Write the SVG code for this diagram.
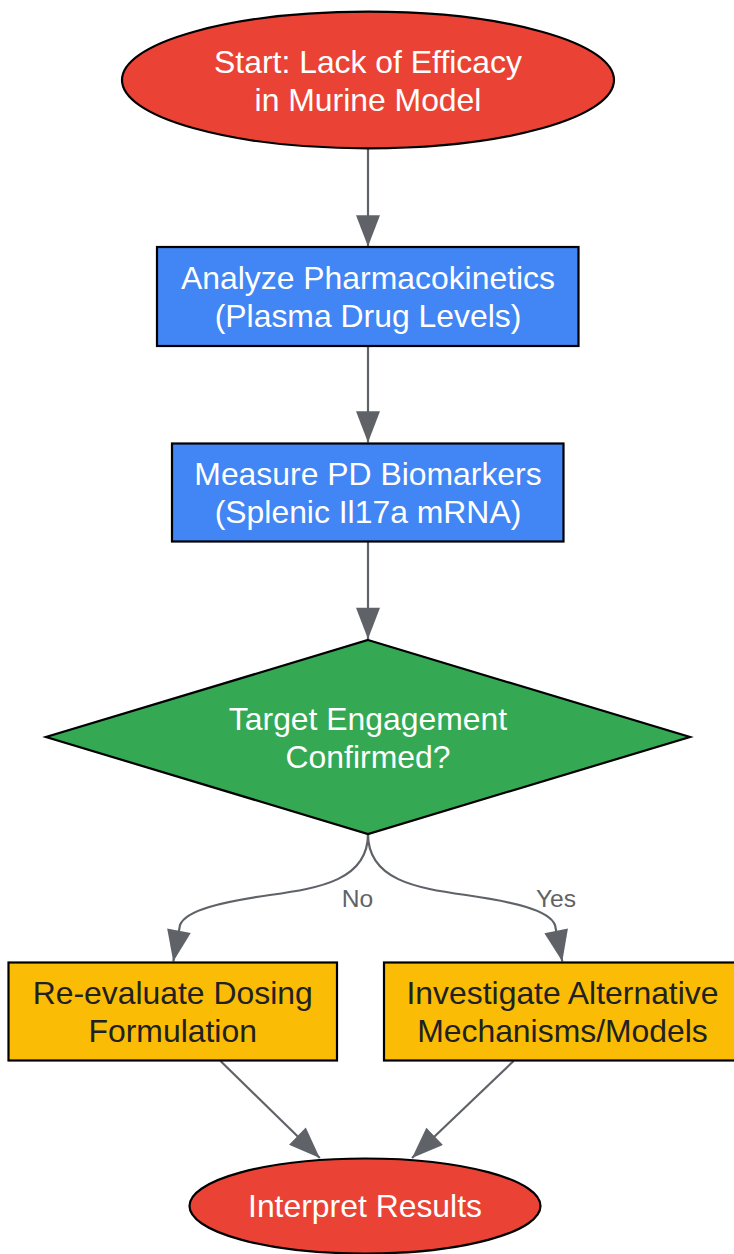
<svg xmlns="http://www.w3.org/2000/svg" width="734" height="1254" viewBox="0 0 734 1254">
<style>
.n{stroke:#000;stroke-width:2.2}
.t{font-family:"Liberation Sans",Arial,sans-serif;font-size:31.9px;text-anchor:middle}
.w{fill:#fff}
.d{fill:#202124}
.e{fill:none;stroke:#5f6368;stroke-width:2.2}
.l{font-family:"Liberation Sans",Arial,sans-serif;font-size:24.6px;fill:#5f6368;text-anchor:middle}
</style>
<defs>
<marker id="ah" markerUnits="userSpaceOnUse" markerWidth="32" markerHeight="24" viewBox="0 0 30 23" refX="30" refY="11.5" orient="auto">
<path d="M0,0 L30,11.5 L0,23 Z" fill="#5f6368"/>
</marker>
</defs>
<rect width="734" height="1254" fill="#fff"/>
<g id="edges">
<path class="e" d="M368,149 L368,246.5" marker-end="url(#ah)"/>
<path class="e" d="M368,346 L368,442.5" marker-end="url(#ah)"/>
<path class="e" d="M368,542 L368,639" marker-end="url(#ah)"/>
<path class="e" d="M368,834 C368,880 320,888 270,895 C222,902 186,910 180,925 L173.3,961.5" marker-end="url(#ah)"/>
<path class="e" d="M368,834 C368,880 416,888 466,895 C514,902 549,910 555,925 L562.3,961.5" marker-end="url(#ah)"/>
<path class="e" d="M220.5,1061 L319.8,1158" marker-end="url(#ah)"/>
<path class="e" d="M513.6,1061 L412,1158" marker-end="url(#ah)"/>
<text class="l" x="357.5" y="907">No</text>
<text class="l" x="556" y="907">Yes</text>
</g>
<g id="start">
<ellipse class="n" cx="368" cy="80" rx="246" ry="68.3" fill="#ea4335"/>
<text class="t w" x="368" y="73">Start: Lack of Efficacy</text>
<text class="t w" x="368" y="111">in Murine Model</text>
</g>
<g id="pk">
<rect class="n" x="157" y="247" width="421.5" height="99" fill="#4285f4"/>
<text class="t w" x="368" y="289.3">Analyze Pharmacokinetics</text>
<text class="t w" x="368" y="327.3">(Plasma Drug Levels)</text>
</g>
<g id="pd">
<rect class="n" x="172" y="443.5" width="391.5" height="98" fill="#4285f4"/>
<text class="t w" x="368" y="485">Measure PD Biomarkers</text>
<text class="t w" x="368" y="523">(Splenic Il17a mRNA)</text>
</g>
<g id="decision">
<polygon class="n" points="368,640 690,737 368,834 46,737" fill="#34a853"/>
<text class="t w" x="368" y="730">Target Engagement</text>
<text class="t w" x="368" y="768">Confirmed?</text>
</g>
<g id="dosing">
<rect class="n" x="8.5" y="962.5" width="328.5" height="98" fill="#fbbc05"/>
<text class="t d" x="172.7" y="1003.5">Re-evaluate Dosing</text>
<text class="t d" x="172.7" y="1041.5">Formulation</text>
</g>
<g id="alternative">
<rect class="n" x="384" y="962.5" width="357" height="98" fill="#fbbc05"/>
<text class="t d" x="562.5" y="1003.5">Investigate Alternative</text>
<text class="t d" x="562.5" y="1041.5">Mechanisms/Models</text>
</g>
<g id="interpret">
<ellipse class="n" cx="365" cy="1206" rx="175.5" ry="47.5" fill="#ea4335"/>
<text class="t w" x="365" y="1217">Interpret Results</text>
</g>
</svg>
